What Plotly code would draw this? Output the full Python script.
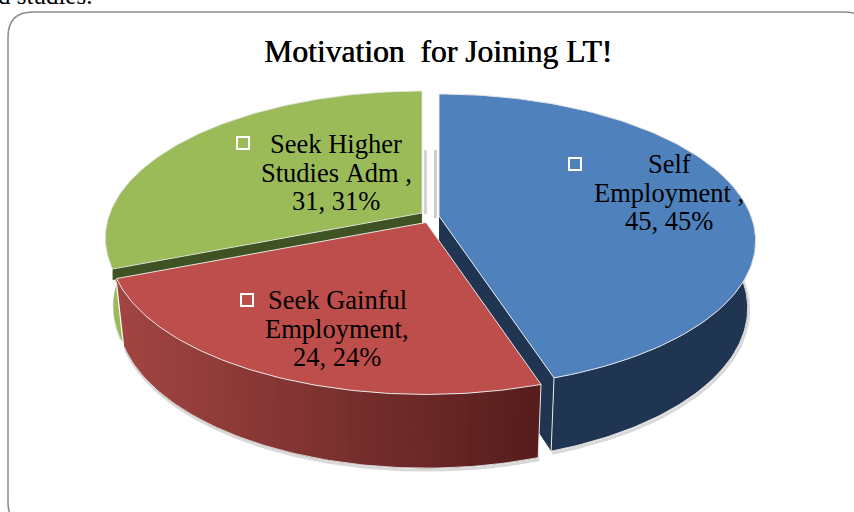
import numpy as np
import plotly.graph_objects as go

# ---- data ----
categories = ["Self Employment", "Seek Gainful Employment", "Seek Higher Studies Adm"]
values = [45, 24, 31]
label_lines = [["Self", "Employment ,"], ["Seek Gainful", "Employment,"], ["Seek Higher", "Studies Adm ,"]]
title_text = "Motivation  for Joining LT!"
clipped_text = "d studies."

# ---- styling / geometry ----
TOP = ["#4F81BD", "#BE4E4B", "#9BBB59"]
WALL = ["#1F3552", None, "#9BBB59"]
CUT = ["#1F3552", None, "#3F5223"]
APEX = [(439, 216), (426, 222.5), (422, 213)]
K, RX, RY = 0.17, 312, 142.7
SX, SY, DY = 0.975, 1.045, 66
EDGE = "#E6E6E6"
FONT = "Liberation Serif"
LABEL_X = [669, 337, 336]
LABEL_Y = [164, 300, 144]
KEY_X = [575, 247, 243]
KEY_Y = [164, 300, 143]
LINE_H = 28.5


def top_pt(apex, th):
    d = 1 + K * np.cos(th)
    return apex[0] + RX * np.sin(th) / d, apex[1] - RY * np.cos(th) / d


def bot_pt(apex, th):
    d = 1 + K * np.cos(th)
    return apex[0] + SX * RX * np.sin(th) / d, apex[1] + DY - SY * RY * np.cos(th) / d


def arc(a, b, n=120):
    return np.linspace(a, b, n)


fracs = np.array(values, dtype=float) / sum(values)
edges = np.concatenate([[0], np.cumsum(fracs)]) * 2 * np.pi

fig = go.Figure()


def poly(xs, ys, fill, line=None, width=0):
    fig.add_trace(go.Scatter(
        x=list(xs), y=list(ys), mode="lines", fill="toself", fillcolor=fill,
        line=dict(color=line or fill, width=width), hoverinfo="skip", showlegend=False))


def stroke(xs, ys, color, width):
    fig.add_trace(go.Scatter(
        x=list(xs), y=list(ys), mode="lines", line=dict(color=color, width=width),
        hoverinfo="skip", showlegend=False))


def wall(apex, a, b, fill):
    t = arc(a, b)
    xt, yt = top_pt(apex, t)
    xb, yb = bot_pt(apex, t)
    poly(np.r_[xt, xb[::-1]], np.r_[yt, yb[::-1]], fill)


def cut(apex, th, fill, depth=None):
    x1, y1 = top_pt(apex, th)
    x2, y2 = bot_pt(apex, th)
    if depth is None:
        poly([apex[0], x1, x2, apex[0]], [apex[1], y1, y2, apex[1] + DY], fill)
    else:
        poly([apex[0], x1, x1, apex[0]], [apex[1], y1, y1 + depth, apex[1] + depth], fill)


def shadow(apex, a, b):
    t = arc(a, b)
    xb, yb = bot_pt(apex, t)
    stroke(xb + 1, yb + 2, "rgba(130,130,130,0.3)", 3)


def top(apex, a, b, fill, line_w=1):
    t = arc(a, b)
    x, y = top_pt(apex, t)
    poly(np.r_[apex[0], x, apex[0]], np.r_[apex[1], y, apex[1]], fill, EDGE, line_w)


# green (back slice)
green_a, green_b = edges[2], edges[3]
shadow(APEX[2], green_a, green_a + 0.3)
wall(APEX[2], green_a - 0.03, green_a + 0.6, WALL[2])
cut(APEX[2], green_a, CUT[2], depth=11)
top(APEX[2], green_a, green_b, TOP[2], 0.8)

# blue
blue_a, blue_b = edges[0], edges[1]
shadow(APEX[0], blue_a + 1.2, blue_b)
wall(APEX[0], blue_a + 1.2, blue_b, WALL[0])
cut(APEX[0], blue_b, CUT[0])
t = arc(blue_a + 1.2, blue_b)
stroke(*bot_pt(APEX[0], t), "#D8D8D8", 1)
stroke(*[[top_pt(APEX[0], blue_b)[i], bot_pt(APEX[0], blue_b)[i]] for i in range(2)], EDGE, 1)
top(APEX[0], blue_a, blue_b, TOP[0])

# red with horizontal gradient on the wall
red_a, red_b = edges[1], edges[2]
shadow(APEX[1], red_a, red_b)
n_strips = 60
ts = np.linspace(red_b, red_a, n_strips + 1)
xl = top_pt(APEX[1], ts[0])[0]
xr = top_pt(APEX[1], ts[-1])[0]
cl, cr = np.array([0xA2, 0x45, 0x42]), np.array([0x55, 0x1D, 0x1C])
for i in range(n_strips):
    xm = top_pt(APEX[1], (ts[i] + ts[i + 1]) / 2)[0]
    f = (xm - xl) / (xr - xl)
    c = cl + (cr - cl) * f
    end = ts[min(i + 2, n_strips)]
    t = np.linspace(ts[i], end, 6)
    xt, yt = top_pt(APEX[1], t)
    xb, yb = bot_pt(APEX[1], t)
    poly(np.r_[xt, xb[::-1]], np.r_[yt, yb[::-1]], f"rgb({c[0]:.0f},{c[1]:.0f},{c[2]:.0f})")
t = arc(red_a, red_b)
stroke(*bot_pt(APEX[1], t), "#D8D8D8", 1)
stroke(*[[top_pt(APEX[1], red_a)[i], bot_pt(APEX[1], red_a)[i]] for i in range(2)], EDGE, 1)
top(APEX[1], red_a, red_b, TOP[1])

# legend keys
fig.add_trace(go.Scatter(
    x=KEY_X, y=KEY_Y, mode="markers",
    marker=dict(symbol="square", size=12, color="rgba(0,0,0,0)", line=dict(color="white", width=2)),
    hoverinfo="skip", showlegend=False))

annotations = []


def add_text(x, y, text, size, anchor="center", **font):
    annotations.append(dict(
        x=x, y=y, text=text, showarrow=False, xanchor=anchor, yanchor="middle",
        xref="x", yref="y", font=dict(family=FONT, size=size, color="#000000", **font)))


for i, v in enumerate(values):
    lines = label_lines[i] + [f"{v}, {v}%"]
    for j, s in enumerate(lines):
        add_text(LABEL_X[i], LABEL_Y[i] + j * LINE_H, s.replace(" ", "\u00a0"), 26.5)

add_text(438, 51, title_text.replace("  ", "\u00a0\u00a0"), 31.6, shadow="0.6px 0 0 #000")
annotations.append(dict(
    x=94 / 854, y=1 + 5 / 512, text=clipped_text, showarrow=False, xanchor="right", yanchor="middle",
    xref="paper", yref="paper", font=dict(family=FONT, size=25, color="#000000")))

R = 25
L0, T0, R0, B0 = 8, 12, 869, 527
frame = (f"M {L0+R},{T0} L {R0-R},{T0} Q {R0},{T0} {R0},{T0+R} L {R0},{B0-R} Q {R0},{B0} {R0-R},{B0} "
         f"L {L0+R},{B0} Q {L0},{B0} {L0},{B0-R} L {L0},{T0+R} Q {L0},{T0} {L0+R},{T0} Z")

shapes = [
    dict(type="path", path=frame, line=dict(color="#8C8C8C", width=1.5), layer="below"),
    dict(type="line", x0=425.5, x1=425.5, y0=150, y1=214, line=dict(color="#D4D4D4", width=3), layer="below"),
    dict(type="line", x0=435.5, x1=435.5, y0=150, y1=218, line=dict(color="#CDCDCD", width=3), layer="below"),
]

fig.update_layout(
    width=854, height=512, autosize=False,
    margin=dict(l=0, r=0, t=0, b=0),
    paper_bgcolor="white", plot_bgcolor="white",
    xaxis=dict(range=[0, 854], visible=False, fixedrange=True),
    yaxis=dict(range=[512, 0], visible=False, fixedrange=True),
    annotations=annotations, shapes=shapes, showlegend=False,
)
fig.write_html("out.html", config=dict(displayModeBar=False),
               post_script="document.body.style.margin='0';document.documentElement.style.overflow='hidden';")
